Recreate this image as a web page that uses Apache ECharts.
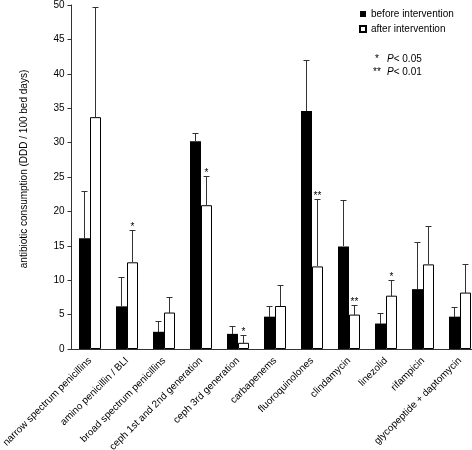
<!DOCTYPE html>
<html><head><meta charset="utf-8">
<script src="https://cdn.jsdelivr.net/npm/echarts@6/dist/echarts.min.js"></script>
<style>html,body{margin:0;padding:0;background:#fff}#c{width:472px;height:450px}</style>
</head><body><div id="c"></div>
<script>
const categories = ['narrow spectrum penicillins','amino penicillin / BLI','broad spectrum penicillins','ceph 1st and 2nd generation','ceph 3rd generation','carbapenems','fluoroquinolones','clindamycin','linezolid','rifampicin','glycopeptide + daptomycin'];
const beforeValues = [16.1, 6.2, 2.5, 30.2, 2.2, 4.7, 34.6, 14.9, 3.7, 8.7, 4.7];
const beforeErrTop = [23.0, 10.5, 4.1, 31.4, 3.4, 6.2, 42.0, 21.7, 5.3, 15.6, 6.15];
const afterValues = [33.7, 12.6, 5.3, 20.9, 0.9, 6.25, 12.0, 5.0, 7.75, 12.3, 8.2];
const afterErrTop = [49.7, 17.3, 7.5, 25.2, 2.0, 9.35, 21.8, 6.4, 10.0, 17.9, 12.35];
const beforeSig = ['', '', '', '', '', '', '', '', '', '', ''];
const afterSig = ['', '*', '', '*', '*', '', '**', '**', '*', '', ''];
const seriesNames = ['before intervention', 'after intervention'];
const yAxisTitle = 'antibiotic consumption (DDD / 100 bed days)';
const yMin = 0, yMax = 50, yStep = 5;

const FONT = '"Liberation Sans", Arial, sans-serif';
const BAR_W = 11;
const chart = echarts.init(document.getElementById('c'), null, {renderer: 'canvas'});

function errRender(offset, sig) {
  return function (params, api) {
    const i = api.value(0);
    const base = api.coord([i, api.value(1)]);
    const top = api.coord([i, api.value(2)]);
    const x = base[0] + offset;
    const yt = Math.round(top[1]) + 0.5;
    const yb = Math.round(base[1]);
    const st = {stroke: '#333', lineWidth: 1};
    const children = [
      {type: 'line', shape: {x1: x, y1: yb, x2: x, y2: yt}, style: st},
      {type: 'line', shape: {x1: x - 3, y1: yt, x2: x + 3, y2: yt}, style: st}
    ];
    if (sig[i]) {
      children.push({type: 'text', x: x, y: yt - 3,
        style: {text: sig[i], font: '10px ' + FONT, fill: '#000', align: 'center', verticalAlign: 'middle'}});
    }
    return {type: 'group', children: children};
  };
}

chart.setOption({
  animation: false,
  backgroundColor: '#fff',
  grid: {left: 71.5, top: 5, width: 407, height: 344, containLabel: false, outerBoundsMode: 'none'},
  legend: {
    orient: 'vertical', left: 359, top: 9, padding: 0, itemWidth: 6, itemHeight: 6, itemGap: 5,
    icon: 'rect',
    textStyle: {fontSize: 10, fontFamily: FONT, color: '#000'},
    data: seriesNames
  },
  xAxis: {
    type: 'category', data: categories,
    axisLine: {lineStyle: {color: '#333'}},
    axisTick: {length: 4, lineStyle: {color: '#333'}},
    axisLabel: {rotate: 45, interval: 0, fontSize: 10, fontFamily: FONT, color: '#000', margin: 10}
  },
  yAxis: {
    type: 'value', min: yMin, max: yMax, interval: yStep,
    axisLine: {show: true, lineStyle: {color: '#333'}},
    axisTick: {show: true, length: 4, lineStyle: {color: '#333'}},
    splitLine: {show: false},
    axisLabel: {fontSize: 10, fontFamily: FONT, color: '#000', margin: 7}
  },
  graphic: [
    {type: 'text', x: 24, y: 169, rotation: Math.PI / 2,
      style: {text: yAxisTitle, font: '10px ' + FONT, fill: '#000', align: 'center', verticalAlign: 'middle'}},
    {type: 'text', x: 375, y: 59, style: {text: '*', font: '10px ' + FONT, fill: '#000', align: 'left', verticalAlign: 'middle'}},
    {type: 'text', x: 387, y: 59, style: {text: '{i|P}< 0.05', font: '10px ' + FONT, fill: '#000', verticalAlign: 'middle',
      rich: {i: {fontStyle: 'italic', fontSize: 10, fontFamily: FONT, fill: '#000'}}}},
    {type: 'text', x: 373, y: 72, style: {text: '**', font: '10px ' + FONT, fill: '#000', align: 'left', verticalAlign: 'middle'}},
    {type: 'text', x: 387, y: 72, style: {text: '{i|P}< 0.01', font: '10px ' + FONT, fill: '#000', verticalAlign: 'middle',
      rich: {i: {fontStyle: 'italic', fontSize: 10, fontFamily: FONT, fill: '#000'}}}}
  ],
  series: [
    {name: seriesNames[0], type: 'bar', data: beforeValues, barWidth: BAR_W, barGap: 0,
      itemStyle: {color: '#000'}},
    {name: seriesNames[1], type: 'bar', data: afterValues, barWidth: BAR_W, barGap: 0,
      itemStyle: {color: '#fff', borderColor: '#000', borderWidth: 1}},
    {type: 'custom', renderItem: errRender(-BAR_W / 2, beforeSig), clip: false, z: 5,
      data: beforeValues.map((v, i) => [i, v, beforeErrTop[i]])},
    {type: 'custom', renderItem: errRender(BAR_W / 2, afterSig), clip: false, z: 5,
      data: afterValues.map((v, i) => [i, v, afterErrTop[i]])}
  ]
});
</script></body></html>
